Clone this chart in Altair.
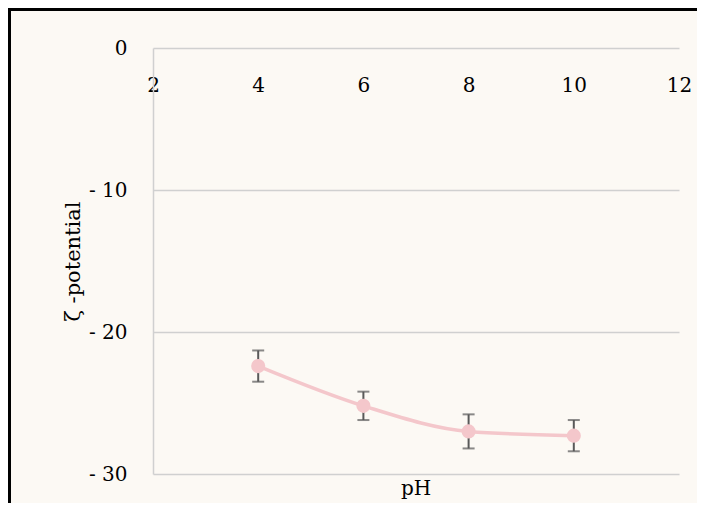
import altair as alt
import pandas as pd

# Data
ph = [4, 6, 8, 10]
zeta = [-22.4, -25.2, -27.0, -27.3]
err = [1.1, 1.0, 1.2, 1.1]
x_ticks = [2, 4, 6, 8, 10, 12]
y_ticks = [0, -10, -20, -30]

df = pd.DataFrame({
    "ph": ph,
    "zeta": zeta,
    "lo": [z - e for z, e in zip(zeta, err)],
    "hi": [z + e for z, e in zip(zeta, err)],
})

FONT = "DejaVu Serif"
PINK = "#F4C7CB"
ERR = "#595959"
GRID = "#D0D0D0"

xenc = alt.X(
    "ph:Q",
    scale=alt.Scale(domain=[2, 12], nice=False, zero=False),
    axis=alt.Axis(
        orient="top", values=x_ticks, domain=False, ticks=False, tickSize=0,
        grid=False, labelPadding=-37, labelBaseline="middle", labelFont=FONT,
        labelFontSize=20, labelColor="black", labelFlush=False, title=None,
    ),
)
yenc = alt.Y(
    "zeta:Q",
    scale=alt.Scale(domain=[-30, 0], nice=False, zero=False),
    axis=alt.Axis(
        values=y_ticks,
        labelExpr="datum.value == 0 ? '0' : '- ' + abs(datum.value)",
        grid=True, gridColor=GRID, gridWidth=1.5,
        domain=True, domainColor=GRID, domainWidth=1.5,
        ticks=False, tickSize=0, labelPadding=26, labelFont=FONT,
        labelFontSize=20, labelColor="black", labelBaseline="middle",
        title="ζ -potential", titleFont=FONT, titleFontSize=21,
        titleFontWeight="normal", titleColor="black", titlePadding=5,
    ),
)

base = alt.Chart(df)
line = base.mark_line(color=PINK, strokeWidth=3.5, interpolate="monotone").encode(x=xenc, y=yenc)
bars = base.mark_rule(color=ERR, strokeWidth=2).encode(x="ph:Q", y="lo:Q", y2="hi:Q")
cap_lo = base.mark_tick(color=ERR, orient="horizontal", size=12, thickness=2).encode(x="ph:Q", y="lo:Q")
cap_hi = base.mark_tick(color=ERR, orient="horizontal", size=12, thickness=2).encode(x="ph:Q", y="hi:Q")
pts = base.mark_circle(color=PINK, size=200, opacity=1).encode(x="ph:Q", y="zeta:Q")

frame_data = alt.Data(values=[{"a": 1}])
top_border = alt.Chart(frame_data).mark_rule(color="black", strokeWidth=5).encode(
    x=alt.value(-150), x2=alt.value(550), y=alt.value(-39.5)
)
left_border = alt.Chart(frame_data).mark_rule(color="black", strokeWidth=5).encode(
    x=alt.value(-144.5), y=alt.value(-45), y2=alt.value(460)
)

chart = alt.layer(line, bars, cap_lo, cap_hi, pts, top_border, left_border).properties(
    width=526,
    height=426,
    autosize=alt.AutoSizeParams(type="none"),
    padding={"left": 145, "top": 40, "right": 18, "bottom": 29},
    title=alt.TitleParams(
        "pH", orient="bottom", font=FONT, fontSize=20, fontWeight="normal",
        color="black", offset=-32, baseline="top",
    ),
).configure(background="#FCF9F4").configure_view(strokeWidth=0)

chart.save("out.html", embed_options={"renderer": "svg", "actions": False})
